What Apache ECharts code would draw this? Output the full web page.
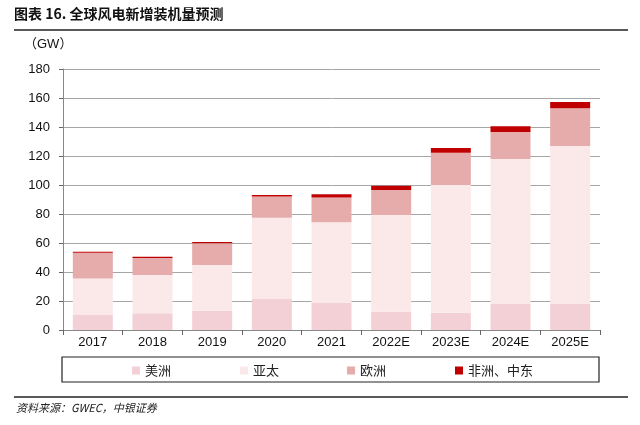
<!DOCTYPE html>
<html>
<head>
<meta charset="utf-8">
<script src="https://cdn.jsdelivr.net/npm/echarts@6/dist/echarts.min.js"></script>
<style>html,body{margin:0;padding:0;background:#fff;}#c{width:640px;height:425px;}</style>
</head>
<body>
<div id="c"></div>
<script>
var categories = ['2017','2018','2019','2020','2021','2022E','2023E','2024E','2025E'];
var americas = [10.3, 11.5, 13.3, 21.4, 18.9, 12.6, 11.9, 17.9, 18.2];
var asiaPacific = [25.3, 26.4, 31.5, 56.1, 55.4, 66.7, 88.1, 100.0, 108.7];
var europe = [17.7, 11.7, 15.0, 14.5, 17.0, 17.3, 22.3, 18.7, 26.0];
var africaME = [0.6, 1.0, 0.9, 1.1, 2.3, 2.9, 3.2, 3.9, 4.3];
var seriesNames = ['美洲','亚太','欧洲','非洲、中东'];
var colors = ['#f3d0d6','#fbe9ea','#e6abab','#c00000'];
var yTicks = [0,20,40,60,80,100,120,140,160,180];

var chart = echarts.init(document.getElementById('c'), null, {renderer:'canvas'});
var dataSets = [americas, asiaPacific, europe, africaME];
var series = dataSets.map(function(d,i){
  return {name: seriesNames[i], type:'bar', stack:'total', data:d, barWidth:40,
    itemStyle:{color:colors[i]}, emphasis:{disabled:true}};
});
var legendLefts = [127, 235, 342, 450];
var legends = seriesNames.map(function(n,i){
  return {data:[n], left:legendLefts[i], top:359, itemWidth:8, itemHeight:8, itemGap:0,
    icon:'rect', textStyle:{fontFamily:'Noto Sans CJK SC', fontSize:13, color:'#222'}, selectedMode:false};
});
chart.setOption({
  animation:false,
  backgroundColor:'#fff',
  grid:{left:63, right:40, top:69, bottom:95, containLabel:false},
  legend: legends,
  xAxis:{type:'category', data:categories,
    axisLine:{lineStyle:{color:'#888', width:1}},
    axisTick:{show:true, alignWithLabel:false, length:5, lineStyle:{color:'#666'}},
    axisLabel:{fontFamily:'Liberation Sans', fontSize:13, color:'#111', margin:6}},
  yAxis:{type:'value', min:0, max:180, interval:20,
    axisLine:{show:true, lineStyle:{color:'#888'}},
    axisTick:{show:true, length:4, lineStyle:{color:'#666'}},
    splitLine:{lineStyle:{color:'#a6a6a6', width:1}},
    axisLabel:{fontFamily:'Liberation Sans', fontSize:13, color:'#111', margin:13,
      formatter:function(v){return yTicks.indexOf(v)>=0? String(v):'';}}},
  series: series,
  graphic:[
    {type:'text', left:14, top:7, style:{text:'图表 16. 全球风电新增装机量预测', font:'bold 14px "Noto Sans CJK SC"', fill:'#111'}},
    {type:'line', shape:{x1:14,y1:30,x2:628,y2:30}, style:{stroke:'#222', lineWidth:1.5}},
    {type:'text', left:24, top:38, style:{text:'（GW）', font:'13px "Liberation Sans","Noto Sans CJK SC"', fill:'#111'}},
    {type:'rect', shape:{x:62,y:357,width:537,height:25}, style:{fill:'none', stroke:'#222', lineWidth:1.2}},
    {type:'line', shape:{x1:14,y1:397,x2:628,y2:397}, style:{stroke:'#222', lineWidth:1.5}},
    {type:'text', left:16, top:402, style:{text:'资料来源：GWEC，中银证券', font:'italic 11px "Noto Sans CJK SC"', fill:'#222'}}
  ]
});
</script>
</body>
</html>
